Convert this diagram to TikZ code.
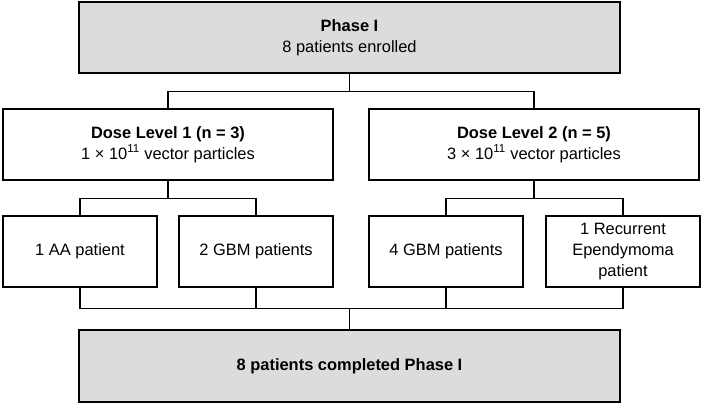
\documentclass[tikz,border=0pt]{standalone}
\usepackage{fontspec}
\setmainfont{Liberation Sans}
\usepackage{tikz}
\definecolor{boxgray}{RGB}{220,220,220}

\begin{document}
\begin{tikzpicture}[x=1bp,y=1bp,line width=1.2bp,
		box/.style={draw=black,rectangle,inner sep=0pt,align=center,minimum height=71bp,font=\fontsize{16.5}{21}\selectfont},
		phasebox/.style={box,fill=boxgray,minimum width=541bp},
		dosebox/.style={box,minimum width=330bp},
		groupbox/.style={box,minimum width=154bp}]
		\useasboundingbox (0,0) rectangle (702,404);
		\node [phasebox] (phase) at (349.5,366.5) {\textbf{Phase I}\\8 patients enrolled};
		\node [dosebox] (dose1) at (168,259.5) {\textbf{Dose Level 1 (n = 3)}\\1 × 10\textsuperscript{11} vector particles};
		\node [dosebox] (dose2) at (534,259.5) {\textbf{Dose Level 2 (n = 5)}\\3 × 10\textsuperscript{11} vector particles};
		\node [groupbox] (aa) at (80,152.5) {1 AA patient};
		\node [groupbox] (gbm1) at (256,152.5) {2 GBM patients};
		\node [groupbox] (gbm2) at (446,152.5) {4 GBM patients};
		\node [groupbox] (epend) at (623,152.5) {1 Recurrent\\Ependymoma\\patient};
		\node [phasebox,minimum height=72bp] (done) at (349.5,38) {\textbf{8 patients completed Phase I}};
		\draw (phase.south) -- ++(0,-18) coordinate (bus1);
		\draw (dose1.north) |- (bus1) -| (dose2.north);
		\draw (dose1.south) -- ++(0,-18) coordinate (bus2);
		\draw (aa.north) |- (bus2) -| (gbm1.north);
		\draw (dose2.south) -- ++(0,-18) coordinate (bus3);
		\draw (gbm2.north) |- (bus3) -| (epend.north);
		\draw (done.north) -- ++(0,21) coordinate (bus4);
		\draw (aa.south) |- (bus4) -| (epend.south);
		\draw (gbm1.south) -- (gbm1.south |- bus4);
		\draw (gbm2.south) -- (gbm2.south |- bus4);
\end{tikzpicture}
\end{document}
